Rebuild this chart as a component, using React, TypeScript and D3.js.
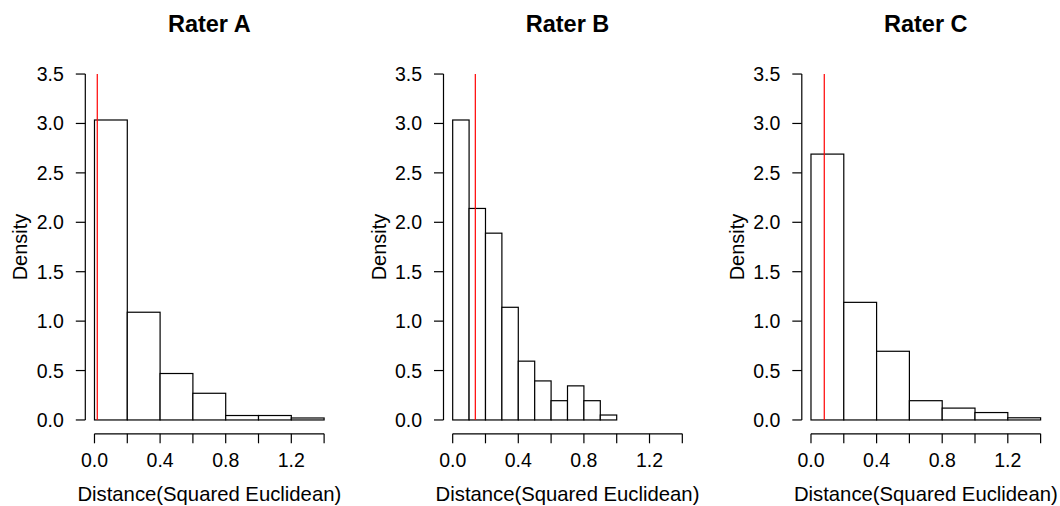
import React from "react";
import * as d3 from "d3";

const titles = ["Rater A", "Rater B", "Rater C"];
const breaksA = [0, 0.2, 0.4, 0.6, 0.8, 1.0, 1.2, 1.4];
const densityA = [3.035, 1.09, 0.47, 0.27, 0.045, 0.045, 0.02];
const breaksB = [0, 0.1, 0.2, 0.3, 0.4, 0.5, 0.6, 0.7, 0.8, 0.9, 1.0];
const densityB = [3.035, 2.14, 1.89, 1.14, 0.595, 0.395, 0.195, 0.345, 0.195, 0.05];
const breaksC = [0, 0.2, 0.4, 0.6, 0.8, 1.0, 1.2, 1.4];
const densityC = [2.69, 1.19, 0.695, 0.195, 0.12, 0.075, 0.022];
const markers = [0.017, 0.138, 0.081];
const xTicks = [0, 0.2, 0.4, 0.6, 0.8, 1.0, 1.2, 1.4];
const xTickLabels = [0, 0.4, 0.8, 1.2];
const yTicks = [0, 0.5, 1.0, 1.5, 2.0, 2.5, 3.0, 3.5];
const xLabel = "Distance(Squared Euclidean)";
const yLabel = "Density";

const panels = [
  { breaks: breaksA, density: densityA },
  { breaks: breaksB, density: densityB },
  { breaks: breaksC, density: densityC },
];

const W = 1060;
const H = 506;
const panelLefts = [85.3, 443.5, 801.8];
const plotW = 248;
const plotTop = 60.2;
const plotBottom = 433.8;
const font = "'Liberation Sans', Arial, Helvetica, sans-serif";

function Panel({ idx }: { idx: number }) {
  const { breaks, density } = panels[idx];
  const left = panelLefts[idx];
  const x = d3.scaleLinear().domain([-0.056, 1.456]).range([left, left + plotW]);
  const y = d3.scaleLinear().domain([-0.14, 3.64]).range([plotBottom, plotTop]);
  const fmt = d3.format(".1f");
  const cx = left + plotW / 2;
  const bins = density.map((d, i) => ({ x0: breaks[i], x1: breaks[i + 1], d }));
  return (
    <g>
      <text x={cx} y={32} textAnchor="middle" fontFamily={font} fontWeight="bold" fontSize={23.5}>
        {titles[idx]}
      </text>
      {bins.map((b, i) => (
        <rect
          key={i}
          x={x(b.x0)}
          y={y(b.d)}
          width={x(b.x1) - x(b.x0)}
          height={y(0) - y(b.d)}
          fill="white"
          stroke="black"
          strokeWidth={1.2}
        />
      ))}
      <line x1={x(markers[idx])} x2={x(markers[idx])} y1={y(0)} y2={y(3.5)} stroke="#ff0000" strokeWidth={1.2} />
      {/* y axis */}
      <line x1={left} x2={left} y1={y(0)} y2={y(3.5)} stroke="black" strokeWidth={1.2} />
      {yTicks.map((t) => (
        <g key={t}>
          <line x1={left - 9.5} x2={left} y1={y(t)} y2={y(t)} stroke="black" strokeWidth={1.2} />
          <text x={left - 21.5} y={y(t)} dy="0.36em" textAnchor="end" fontFamily={font} fontSize={19.5}>
            {fmt(t)}
          </text>
        </g>
      ))}
      <text
        transform={`translate(${left - 58},${(plotTop + plotBottom) / 2}) rotate(-90)`}
        textAnchor="middle"
        fontFamily={font}
        fontSize={20}
      >
        {yLabel}
      </text>
      {/* x axis */}
      <line x1={x(0)} x2={x(1.4)} y1={plotBottom} y2={plotBottom} stroke="black" strokeWidth={1.2} />
      {xTicks.map((t) => (
        <line key={t} x1={x(t)} x2={x(t)} y1={plotBottom} y2={plotBottom + 9.5} stroke="black" strokeWidth={1.2} />
      ))}
      {xTickLabels.map((t) => (
        <text key={t} x={x(t)} y={467} textAnchor="middle" fontFamily={font} fontSize={19.5}>
          {fmt(t)}
        </text>
      ))}
      <text x={cx} y={501} textAnchor="middle" fontFamily={font} fontSize={20.3}>
        {xLabel}
      </text>
    </g>
  );
}

export default function App() {
  return (
    <svg
      width={W}
      height={H}
      viewBox={`0 0 ${W} ${H}`}
      style={{ position: "absolute", left: 0, top: 0, background: "white" }}
    >
      <rect x={0} y={0} width={W} height={H} fill="white" />
      {[0, 1, 2].map((i) => (
        <Panel key={i} idx={i} />
      ))}
    </svg>
  );
}
